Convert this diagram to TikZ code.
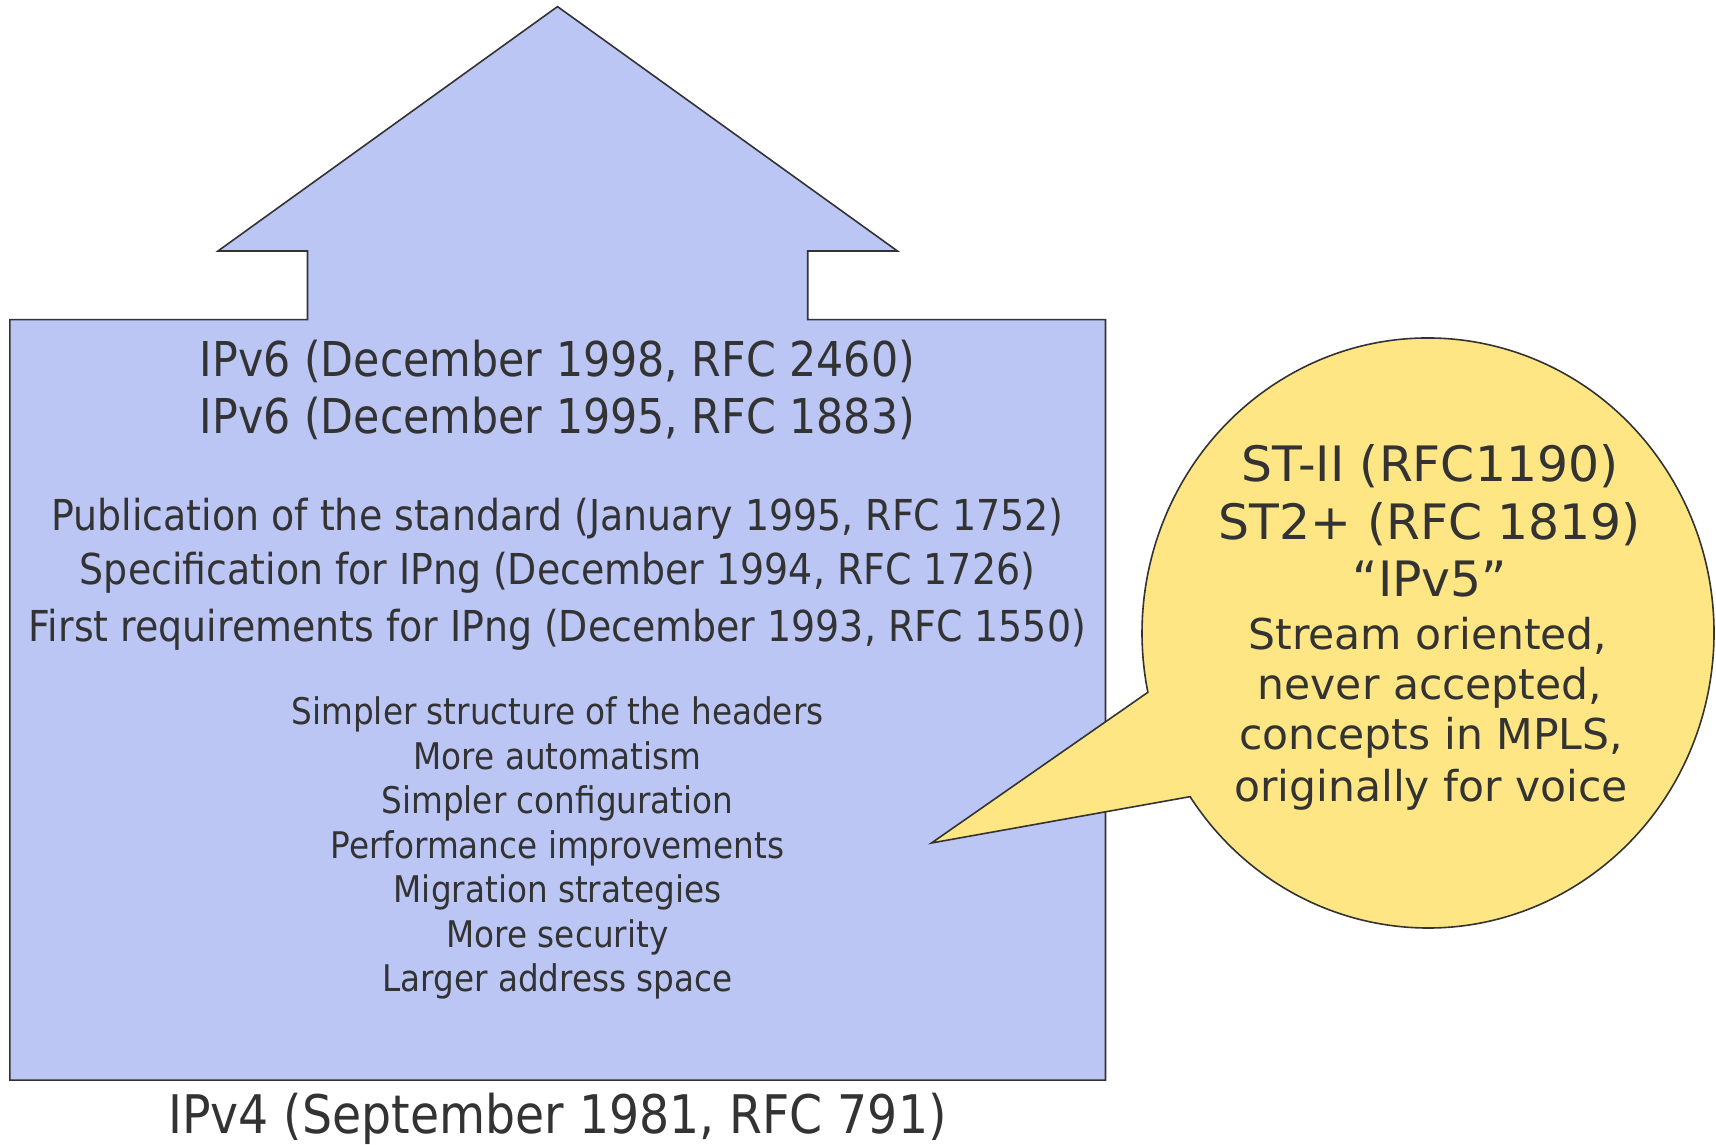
\documentclass[tikz,border=0pt]{standalone}
\usepackage{fontspec}
\setmainfont{DejaVu Sans}
\newfontfamily\narrowfont[FakeStretch=0.89]{DejaVu Sans}
\newfontfamily\widefont{DejaVu Sans}
\definecolor{boxblue}{HTML}{BBC6F4}
\definecolor{bubble}{HTML}{FEE684}
\definecolor{ink}{HTML}{333333}
\tikzset{
  outline/.style={draw=ink, line width=1.6pt, line join=miter},
  big/.style={anchor=base, text=ink, inner sep=0pt, font=\narrowfont\fontsize{48}{58}\selectfont},
  mid/.style={anchor=base, text=ink, inner sep=0pt, font=\narrowfont\fontsize{42.6}{51}\selectfont},
  small/.style={anchor=base, text=ink, inner sep=0pt, font=\narrowfont\fontsize{36.7}{44}\selectfont},
  base4/.style={anchor=base, text=ink, inner sep=0pt, font=\narrowfont\fontsize{53.2}{64}\selectfont},
  cbig/.style={anchor=base, text=ink, inner sep=0pt, font=\widefont\fontsize{48.8}{58}\selectfont},
  csmall/.style={anchor=base, text=ink, inner sep=0pt, font=\widefont\fontsize{42.5}{51}\selectfont},
}
\begin{document}
\begin{tikzpicture}[x=1pt,y=1pt]
\useasboundingbox (0,0) rectangle (1716,1145);
% house-shaped arrow
\draw[outline, fill=boxblue]
  (557.5,1138.4) -- (897.4,894) -- (807.7,894) -- (807.7,825.4) -- (1105.5,825.4)
  -- (1105.5,64.8) -- (9.8,64.8) -- (9.8,825.4) -- (307.5,825.4) -- (307.5,894)
  -- (218,894) -- cycle;
% callout
\coordinate (cc) at (1428,512);
\coordinate (tip) at (931.5,302);
\draw[outline, fill=bubble]
  ([shift={(191.6:286pt and 295pt)}]cc) -- (tip) -- ([shift={(213.7:286pt and 295pt)}]cc)
  arc[start angle=213.7, end angle=551.6, x radius=286pt, y radius=295pt] -- cycle;
% texts in the box
\node[big] (t1) at (557.5,768) {IPv6 (December 1998, RFC 2460)};
\node[big] (t2) at (557.5,711) {IPv6 (December 1995, RFC 1883)};
\node[mid] (m1) at (557.5,614) {Publication of the standard (January 1995, RFC 1752)};
\node[mid] (m2) at (557.5,560) {Specification for IPng (December 1994, RFC 1726)};
\node[mid] (m3) at (557.5,503) {First requirements for IPng (December 1993, RFC 1550)};
\node[small] (l1) at (557.5,420) {Simpler structure of the headers};
\node[small] (l2) at (557.5,375.5) {More automatism};
\node[small] (l3) at (557.5,331) {Simpler configuration};
\node[small] (l4) at (557.5,286.5) {Performance improvements};
\node[small] (l5) at (557.5,242) {Migration strategies};
\node[small] (l6) at (557.5,197.5) {More security};
\node[small] (l7) at (557.5,153) {Larger address space};
\node[base4] (v4) at (557.5,11) {IPv4 (September 1981, RFC 791)};
% callout texts
\node[cbig] (c1) at (1430,663) {ST-II (RFC1190)};
\node[cbig] (c2) at (1430,605) {ST2+ (RFC 1819)};
\node[cbig] (c3) at (1430,548) {“IPv5”};
\node[csmall] (c4) at (1428,495) {Stream oriented,};
\node[csmall] (c5) at (1430,445) {never accepted,};
\node[csmall] (c6) at (1431,395) {concepts in MPLS,};
\node[csmall] (c7) at (1431,343) {originally for voice};
\end{tikzpicture}
\end{document}
